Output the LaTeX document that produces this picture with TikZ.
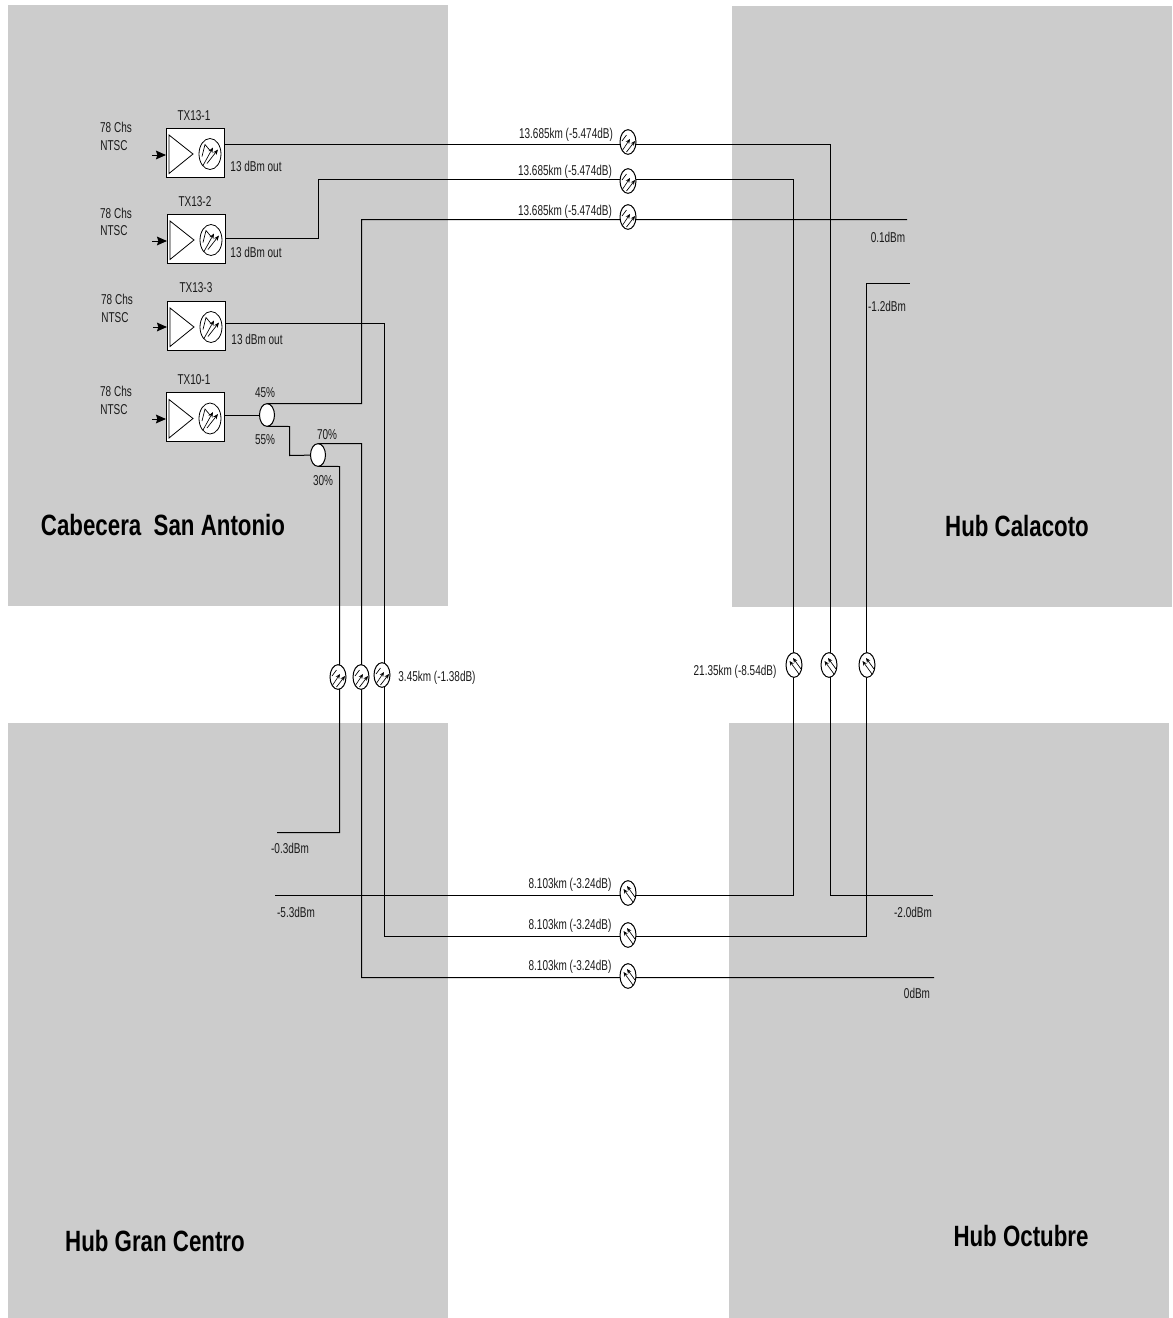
\documentclass[tikz,border=0pt]{standalone}
\usepackage{fontspec}
\setmainfont[FakeStretch=0.7]{Liberation Sans}
\newfontfamily\titlefont[FakeStretch=0.76]{Liberation Sans}
\usetikzlibrary{shapes.geometric,arrows.meta}
\pgfdeclarelayer{panel}\pgfdeclarelayer{wire}
\pgfsetlayers{panel,wire,main}
\definecolor{panelgray}{HTML}{CCCCCC}
\definecolor{inkdark}{HTML}{1A1A1A}
\tikzset{
  every node/.style={inner sep=0pt,outer sep=0pt,text=inkdark,font=\fontsize{10.7pt}{12pt}\selectfont},
  panelbox/.style={fill=panelgray,draw=none},
  hubtitle/.style={font=\titlefont\bfseries\fontsize{22pt}{26pt}\selectfont,text=black},
  wireline/.style={draw=black,line width=0.75pt},
  inputarrow/.style={draw=black,line width=0.75pt,-{Stealth[length=7.5pt,width=6.5pt,inset=1pt]}},
  txbox/.style={rectangle,draw=black,fill=white,line width=0.75pt,minimum width=43.5pt,minimum height=36.75pt,
    path picture={
      \begin{scope}[shift={(path picture bounding box.center)}]
        \draw[line width=0.6pt] (-26,-17.5) -- (-2,1.5) -- (-26,21) -- cycle;
        \draw[line width=0.6pt] (15,1.5) ellipse [x radius=11,y radius=15.5];
        \draw[line width=0.5pt] (7,4) -- (10,-8) -- (15,-2);
        \draw[line width=0.5pt,-{Stealth[length=4pt,width=3.2pt]}] (8,13) -- (18,-5);
        \draw[line width=0.5pt,-{Stealth[length=4pt,width=3.2pt]}] (12,11) -- (23,-3);
      \end{scope}}},
  splitter/.style={ellipse,draw=black,fill=white,line width=0.75pt,minimum width=11.25pt,minimum height=17pt},
  fiberbase/.style={ellipse,draw=black,fill=white,line width=0.75pt,minimum width=12pt,minimum height=18.5pt},
  fiberR/.style={fiberbase,path picture={
      \begin{scope}[shift={(path picture bounding box.center)}]
        \draw[line width=0.5pt] (-6,-1) -- (-1.5,-7);
        \draw[line width=0.5pt,-{Stealth[length=3.5pt,width=3pt]}] (-6,9) -- (2,-3);
        \draw[line width=0.5pt,-{Stealth[length=3.5pt,width=3pt]}] (-1.5,10) -- (7,-1);
      \end{scope}}},
  fiberL/.style={fiberbase,path picture={
      \begin{scope}[shift={(path picture bounding box.center)}]
        \draw[line width=0.5pt,-{Stealth[length=3.5pt,width=3pt]}] (5,9) -- (-4.5,-4);
        \draw[line width=0.5pt,-{Stealth[length=3.5pt,width=3pt]}] (7,4) -- (-1,-7);
      \end{scope}}},
}
\begin{document}
\begin{tikzpicture}[x=0.75pt,y=-0.75pt]
\useasboundingbox (0,0) rectangle (1173,1318);
\begin{pgfonlayer}{panel}
  \path[panelbox] (8,5) rectangle (448,606);
  \path[panelbox] (732,6) rectangle (1172,607);
  \path[panelbox] (8,723) rectangle (448,1318);
  \path[panelbox] (729,723) rectangle (1169,1318);
\end{pgfonlayer}
% Transmitters
\node[txbox] (tx1) at (195,152.5) {};
\node[txbox] (tx2) at (196,238.5) {};
\node[txbox] (tx3) at (196,325.5) {};
\node[txbox] (tx4) at (195,417) {};
% Splitters
\node[splitter] (s1) at (267,415) {};
\node[splitter] (s2) at (318,455) {};
% Fibres
\node[fiberR] (fa) at (628,142) {};
\node[fiberR] (fb) at (628,181) {};
\node[fiberR] (fc) at (628,217) {};
\node[fiberR] (fd) at (338,677) {};
\node[fiberR] (fe) at (361,677) {};
\node[fiberR] (ff) at (382,675) {};
\node[fiberL] (fg) at (794,665) {};
\node[fiberL] (fh) at (829,665) {};
\node[fiberL] (fi) at (867,665) {};
\node[fiberL] (fj) at (628,893) {};
\node[fiberL] (fk) at (628,935) {};
\node[fiberL] (fl) at (628,976) {};
% Free ends
\coordinate (o1) at (933,895.5);
\coordinate (o2) at (275,895.5);
\coordinate (o3) at (910,283.5);
\coordinate (o4) at (907,219.5);
\coordinate (o5) at (934,977.5);
\coordinate (o6) at (277,832.5);
% Input arrow tails
\coordinate (i1) at (152,155);
\coordinate (i2) at (152,241);
\coordinate (i3) at (153,327);
\coordinate (i4) at (152,419);
\draw[inputarrow] (i1) -- (i1 -| tx1.west);
\draw[inputarrow] (i2) -- (i2 -| tx2.west);
\draw[inputarrow] (i3) -- (i3 -| tx3.west);
\draw[inputarrow] (i4) -- (i4 -| tx4.west);
\begin{pgfonlayer}{wire}
  % TX13-1
  \draw[wireline] (224,144.5) -- (830.5,144.5) -- (830.5,895.5) -- (o1);
  % TX13-2
  \draw[wireline] (225,238.5) -- (318.5,238.5) -- (318.5,179.5) -- (793.5,179.5) -- (793.5,895.5) -- (o2);
  % TX13-3
  \draw[wireline] (225,323.5) -- (384.5,323.5) -- (384.5,936.5) -- (866.5,936.5) -- (866.5,283.5) -- (o3);
  % TX10-1 to splitter 1
  \draw[wireline] (tx4.east |- s1) -- (s1);
  % 45% branch
  \draw[wireline] (s1.north) -- (361.5,403.5) -- (361.5,219.5) -- (o4);
  % 55% branch
  \draw[wireline] (s1.south) -- (289.5,426.5) -- (289.5,455.5) -- (s2);
  % 70% branch
  \draw[wireline] (s2.north) -- (361.5,443.5) -- (361.5,977.5) -- (o5);
  % 30% branch
  \draw[wireline] (s2.south) -- (339.5,466.5) -- (339.5,832.5) -- (o6);
\end{pgfonlayer}
% Input labels
\node (a1) at (116,127) {78 Chs};
\node (b1) at (114,146) {NTSC};
\node (a2) at (116,213) {78 Chs};
\node (b2) at (114,231) {NTSC};
\node (a3) at (117,299) {78 Chs};
\node (b3) at (115,318) {NTSC};
\node (a4) at (116,391) {78 Chs};
\node (b4) at (114,410) {NTSC};
% TX labels
\node (l1) at (194,116) {TX13-1};
\node (l2) at (195,202) {TX13-2};
\node (l3) at (196,288) {TX13-3};
\node (l4) at (194,380) {TX10-1};
\node (d1) at (256,166) {13 dBm out};
\node (d2) at (256,252) {13 dBm out};
\node (d3) at (257,339) {13 dBm out};
% Split labels
\node (p1) at (265,393) {45\%};
\node (p2) at (265,440) {55\%};
\node (p3) at (327,435) {70\%};
\node (p4) at (323,481) {30\%};
% Span labels
\node (k1) at (566,135) {13.685km (-5.474dB)};
\node (k2) at (565,172) {13.685km (-5.474dB)};
\node (k3) at (565,212) {13.685km (-5.474dB)};
\node (k4) at (437,678) {3.45km (-1.38dB)};
\node (k5) at (735,672) {21.35km (-8.54dB)};
\node (k6) at (570,885) {8.103km (-3.24dB)};
\node (k7) at (570,926) {8.103km (-3.24dB)};
\node (k8) at (570,967) {8.103km (-3.24dB)};
% Power labels
\node (m1) at (888,237) {0.1dBm};
\node (m2) at (887,306) {-1.2dBm};
\node (m3) at (290,848) {-0.3dBm};
\node (m4) at (296,912) {-5.3dBm};
\node (m5) at (913,912) {-2.0dBm};
\node (m6) at (917,993) {0dBm};
% Titles
\node[hubtitle] (t1) at (163,525) {Cabecera\ \ San Antonio};
\node[hubtitle] (t2) at (1017,526) {Hub Calacoto};
\node[hubtitle] (t3) at (155,1241) {Hub Gran Centro};
\node[hubtitle] (t4) at (1021,1236) {Hub Octubre};
\end{tikzpicture}
\end{document}
